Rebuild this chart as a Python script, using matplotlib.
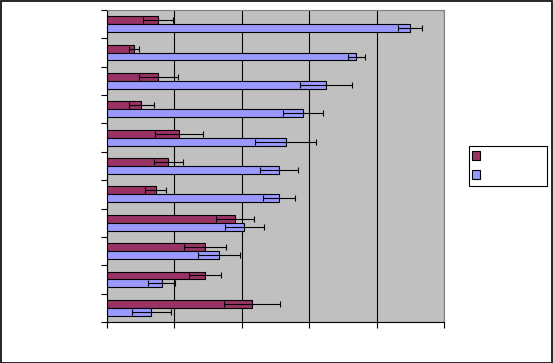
import numpy as np
import matplotlib.pyplot as plt
from matplotlib.patches import Patch

# values read top to bottom
maroon = [0.76, 0.40, 0.76, 0.51, 1.07, 0.91, 0.72, 1.90, 1.45, 1.45, 2.15]
maroon_err = [0.22, 0.074, 0.29, 0.185, 0.36, 0.22, 0.16, 0.28, 0.31, 0.24, 0.415]
blue = [4.50, 3.70, 3.25, 2.91, 2.65, 2.55, 2.55, 2.04, 1.66, 0.815, 0.657]
blue_err = [0.18, 0.13, 0.385, 0.30, 0.45, 0.285, 0.24, 0.29, 0.31, 0.20, 0.29]

y = np.arange(len(maroon))
h = 0.28

fig = plt.figure(figsize=(5.53, 3.63), dpi=100)
ax = fig.add_axes([107/553, 1 - 322/363, 337/553, 312/363])
ax.set_facecolor('#C0C0C0')

ekw = dict(ecolor='black', elinewidth=0.8, capsize=2.5, capthick=0.8)
ax.barh(y - h/2, maroon, height=h, color='#993366', edgecolor='black',
        linewidth=0.8, xerr=maroon_err, error_kw=ekw, zorder=3)
ax.barh(y + h/2, blue, height=h, color='#9999FF', edgecolor='black',
        linewidth=0.8, xerr=blue_err, error_kw=ekw, zorder=3)

ax.set_xlim(0, 5)
ax.set_ylim(len(maroon) - 0.5, -0.5)
ax.set_xticks(np.arange(0, 6))
ax.set_yticks(np.arange(len(maroon) + 1) - 0.5)
ax.set_xticklabels([])
ax.set_yticklabels([])
ax.tick_params(direction='out', length=4, width=0.8, color='black')
ax.grid(axis='x', color='black', linewidth=0.8, zorder=1)
ax.set_axisbelow(True)
for s in ['top', 'right']:
    ax.spines[s].set_color('#808080')
for s in ['left', 'bottom']:
    ax.spines[s].set_color('black')
    ax.spines[s].set_linewidth(0.8)

handles = [Patch(facecolor='#993366', edgecolor='black', linewidth=0.8),
           Patch(facecolor='#9999FF', edgecolor='black', linewidth=0.8)]
leg = fig.legend(handles, ['', ''], loc='lower left', mode='expand',
                 bbox_to_anchor=(469/553, 1 - 186/363, 78/553, 40/363),
                 fontsize=10, handlelength=0.55, handleheight=0.55,
                 labelspacing=0.36, borderpad=0.25, borderaxespad=0,
                 fancybox=False, framealpha=1)
leg.get_frame().set_edgecolor('black')
leg.get_frame().set_linewidth(0.8)

fig.patches.append(plt.Rectangle((0.001, 0.001), 0.997, 0.997, transform=fig.transFigure,
                                 fill=False, edgecolor='black', linewidth=1.2))

fig.savefig('out.png', dpi=100)
